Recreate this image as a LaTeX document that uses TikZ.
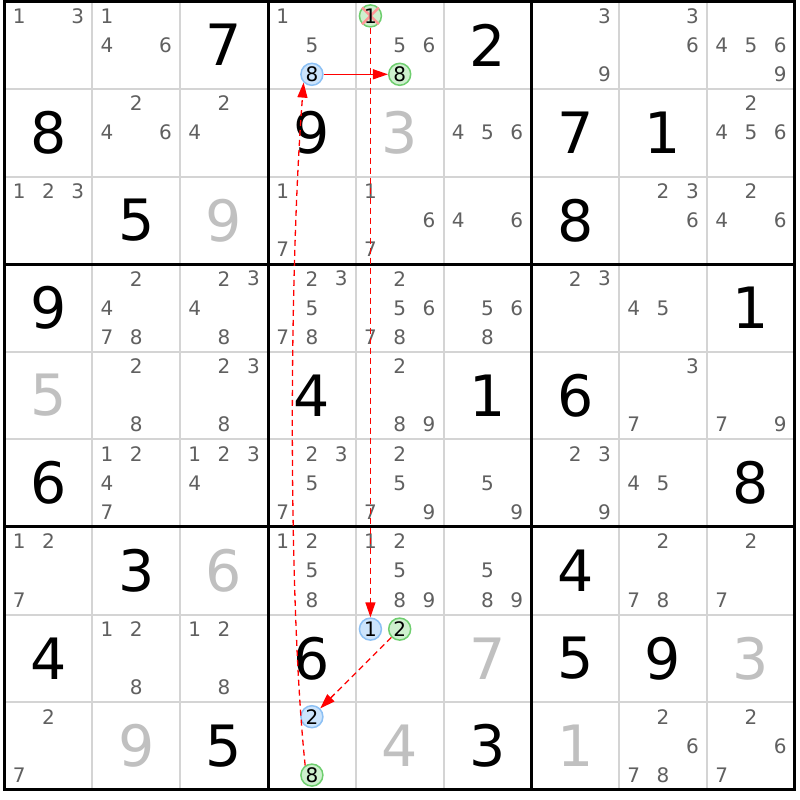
\documentclass[tikz,border=0pt]{standalone}
\usepackage{fontspec}
\setmainfont{DejaVu Sans}
\usetikzlibrary{arrows.meta}
\definecolor{candc}{RGB}{96,96,96}
\definecolor{solvedc}{RGB}{192,192,192}
\definecolor{thinc}{RGB}{212,212,212}
\definecolor{bluef}{RGB}{204,228,252}
\definecolor{blued}{RGB}{140,192,244}
\definecolor{greenf}{RGB}{206,240,206}
\definecolor{greend}{RGB}{110,206,110}
\definecolor{elimc}{RGB}{255,150,150}
\definecolor{linkc}{RGB}{255,0,0}
\tikzset{
  cand/.style={text=candc, font=\fontsize{20}{20}\selectfont, inner sep=0pt},
  givendig/.style={text=black, font=\fontsize{57}{57}\selectfont, inner sep=0pt},
  solveddig/.style={givendig, text=solvedc},
  bluecirc/.style={circle, draw=blued, fill=bluef, line width=1.5pt, minimum size=22pt, inner sep=0pt, text=black, font=\fontsize{20}{20}\selectfont},
  greencirc/.style={bluecirc, draw=greend, fill=greenf},
  elimtext/.style={inner sep=0pt, text=black, font=\fontsize{20}{20}\selectfont},
  thinline/.style={draw=thinc, line width=2pt},
  thickline/.style={draw=black, line width=3pt},
  strongarrow/.style={draw=linkc, line width=1.3pt, -{Triangle[length=15pt,width=10pt]}},
  weakarrow/.style={strongarrow, dash pattern=on 6pt off 4pt}
}
\newcommand\cands[3]{\foreach \p in {#3}{%
  \pgfmathsetmacro\candX{4.6+87.8*(#2-1)+87.8*(1+2*mod(\p-1,3))/6}%
  \pgfmathsetmacro\candY{1.3+87.6*(#1-1)+87.6*(1+2*floor((\p-1)/3))/6}%
  \node[cand] (c#1#2\p) at (\candX,\candY) {\p};}}
\newcommand\givenat[3]{%
  \pgfmathsetmacro\candX{4.6+87.8*(#2-0.5)}%
  \pgfmathsetmacro\candY{1.3+87.6*(#1-0.5)}%
  \node[givendig] (g#1#2) at (\candX,\candY) {#3};}
\newcommand\solvedat[3]{%
  \pgfmathsetmacro\candX{4.6+87.8*(#2-0.5)}%
  \pgfmathsetmacro\candY{1.3+87.6*(#1-0.5)}%
  \node[solveddig] (s#1#2) at (\candX,\candY) {#3};}
\newcommand\hlcand[5]{%
  \pgfmathsetmacro\candX{4.6+87.8*(#3-1)+87.8*(1+2*mod(#4-1,3))/6}%
  \pgfmathsetmacro\candY{1.3+87.6*(#2-1)+87.6*(1+2*floor((#4-1)/3))/6}%
  \node[#5] (#1) at (\candX,\candY) {#4};}
\begin{document}
\begin{tikzpicture}[x=1pt,y=-1pt]
\useasboundingbox (0,0) rectangle (800,800);
\fill[white] (0,0) rectangle (800,800);
% thin grid lines
\foreach \i in {1,2,4,5,7,8}{
  \draw[thinline] ({4.6+87.8*\i},1.3) -- ({4.6+87.8*\i},789.7);
  \draw[thinline] (4.6,{1.3+87.6*\i}) -- (794.8,{1.3+87.6*\i});
}
% thick grid lines
\foreach \i in {3,6}{
  \draw[thickline] ({4.6+87.8*\i},1.3) -- ({4.6+87.8*\i},789.7);
  \draw[thickline] (4.6,{1.3+87.6*\i}) -- (794.8,{1.3+87.6*\i});
}
\draw[thickline] (4.6,1.3) rectangle (794.8,789.7);
% row 1
\cands{1}{1}{1,3}\cands{1}{2}{1,4,6}\givenat{1}{3}{7}
\cands{1}{4}{1,5}\cands{1}{5}{5,6}\givenat{1}{6}{2}
\cands{1}{7}{3,9}\cands{1}{8}{3,6}\cands{1}{9}{4,5,6,9}
% row 2
\givenat{2}{1}{8}\cands{2}{2}{2,4,6}\cands{2}{3}{2,4}
\givenat{2}{4}{9}\solvedat{2}{5}{3}\cands{2}{6}{4,5,6}
\givenat{2}{7}{7}\givenat{2}{8}{1}\cands{2}{9}{2,4,5,6}
% row 3
\cands{3}{1}{1,2,3}\givenat{3}{2}{5}\solvedat{3}{3}{9}
\cands{3}{4}{1,7}\cands{3}{5}{1,6,7}\cands{3}{6}{4,6}
\givenat{3}{7}{8}\cands{3}{8}{2,3,6}\cands{3}{9}{2,4,6}
% row 4
\givenat{4}{1}{9}\cands{4}{2}{2,4,7,8}\cands{4}{3}{2,3,4,8}
\cands{4}{4}{2,3,5,7,8}\cands{4}{5}{2,5,6,7,8}\cands{4}{6}{5,6,8}
\cands{4}{7}{2,3}\cands{4}{8}{4,5}\givenat{4}{9}{1}
% row 5
\solvedat{5}{1}{5}\cands{5}{2}{2,8}\cands{5}{3}{2,3,8}
\givenat{5}{4}{4}\cands{5}{5}{2,8,9}\givenat{5}{6}{1}
\givenat{5}{7}{6}\cands{5}{8}{3,7}\cands{5}{9}{7,9}
% row 6
\givenat{6}{1}{6}\cands{6}{2}{1,2,4,7}\cands{6}{3}{1,2,3,4}
\cands{6}{4}{2,3,5,7}\cands{6}{5}{2,5,7,9}\cands{6}{6}{5,9}
\cands{6}{7}{2,3,9}\cands{6}{8}{4,5}\givenat{6}{9}{8}
% row 7
\cands{7}{1}{1,2,7}\givenat{7}{2}{3}\solvedat{7}{3}{6}
\cands{7}{4}{1,2,5,8}\cands{7}{5}{1,2,5,8,9}\cands{7}{6}{5,8,9}
\givenat{7}{7}{4}\cands{7}{8}{2,7,8}\cands{7}{9}{2,7}
% row 8
\givenat{8}{1}{4}\cands{8}{2}{1,2,8}\cands{8}{3}{1,2,8}
\givenat{8}{4}{6}\solvedat{8}{6}{7}
\givenat{8}{7}{5}\givenat{8}{8}{9}\solvedat{8}{9}{3}
% row 9
\cands{9}{1}{2,7}\solvedat{9}{2}{9}\givenat{9}{3}{5}
\solvedat{9}{5}{4}\givenat{9}{6}{3}
\solvedat{9}{7}{1}\cands{9}{8}{2,6,7,8}\cands{9}{9}{2,6,7}
% highlighted candidates
\hlcand{h148}{1}{4}{8}{bluecirc}
\hlcand{h158}{1}{5}{8}{greencirc}
\pgfmathsetmacro\candX{4.6+87.8*4+87.8/6}
\pgfmathsetmacro\candY{1.3+87.6/6}
\node[greencirc] (e151) at (\candX,\candY) {};
\draw[elimc, line width=2.5pt] (e151.north east) -- (e151.south west);
\draw[elimc, line width=2.5pt] (e151.north west) -- (e151.south east);
\node[elimtext] (t151) at (e151) {1};
\hlcand{h851}{8}{5}{1}{bluecirc}
\hlcand{h852}{8}{5}{2}{greencirc}
\hlcand{h942}{9}{4}{2}{bluecirc}
\hlcand{h948}{9}{4}{8}{greencirc}
% links
\draw[strongarrow] (h148) -- (h158);
\draw[weakarrow] (e151) -- (h851);
\draw[weakarrow] (h852) -- (h942);
\draw[weakarrow] (h948.125) .. controls (288,600) and (289,270) .. (h148.225);
\end{tikzpicture}
\end{document}
